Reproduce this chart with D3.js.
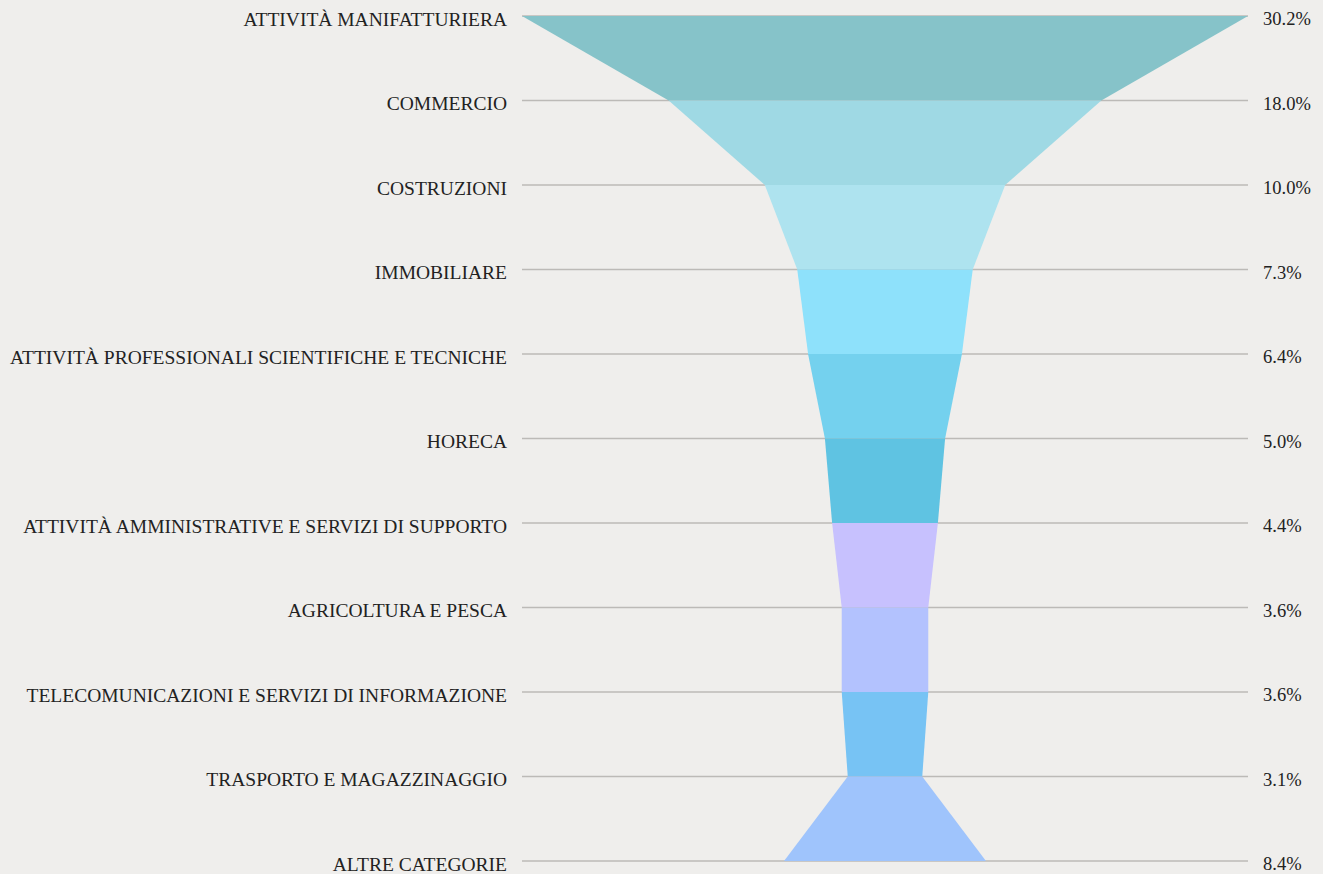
<!DOCTYPE html>
<html>
<head>
<meta charset="utf-8">
<script src="https://cdn.jsdelivr.net/npm/d3@7"></script>
<style>
  html, body { margin: 0; padding: 0; background: #efeeec; }
  svg { display: block; }
  text { font-family: 'Liberation Serif', 'DejaVu Serif', serif; fill: #222; }
</style>
</head>
<body>
<svg id="chart" width="1323" height="874"></svg>
<script>
'use strict'

var categories = [
  'ATTIVITÀ MANIFATTURIERA',
  'COMMERCIO',
  'COSTRUZIONI',
  'IMMOBILIARE',
  'ATTIVITÀ PROFESSIONALI SCIENTIFICHE E TECNICHE',
  'HORECA',
  'ATTIVITÀ AMMINISTRATIVE E SERVIZI DI SUPPORTO',
  'AGRICOLTURA E PESCA',
  'TELECOMUNICAZIONI E SERVIZI DI INFORMAZIONE',
  'TRASPORTO E MAGAZZINAGGIO',
  'ALTRE CATEGORIE'
]
var values = [30.2, 18.0, 10.0, 7.3, 6.4, 5.0, 4.4, 3.6, 3.6, 3.1, 8.4]
var bandColors = ['#86c3c9', '#9fd9e4', '#aee3ef', '#8ee1fb', '#74d1ee', '#5fc3e2',
  '#c7c1fe', '#b3c2fe', '#77c3f4', '#9fc4fc']

var svg = d3.select('#chart')
var left = 522
var right = 1248
var cx = (left + right) / 2

var y = d3.scalePoint()
  .domain(categories)
  .range([16, 861])

var w = d3.scaleLinear()
  .domain([0, d3.max(values)])
  .range([0, right - left])

// grid lines
svg.append('g')
  .selectAll('line')
  .data(categories)
  .enter().append('line')
    .attr('x1', left)
    .attr('x2', right)
    .attr('y1', (d) => y(d))
    .attr('y2', (d) => y(d))
    .attr('stroke', '#bcbab7')
    .attr('stroke-width', 1.3)

// funnel bands
var bands = d3.range(values.length - 1)
svg.append('g')
  .selectAll('path')
  .data(bands)
  .enter().append('path')
    .attr('fill', (i) => bandColors[i])
    .attr('d', (i) => {
      var y0 = y(categories[i])
      var y1 = y(categories[i + 1])
      var h0 = w(values[i]) / 2
      var h1 = w(values[i + 1]) / 2
      return 'M' + (cx - h0) + ',' + y0 + 'L' + (cx + h0) + ',' + y0 +
        'L' + (cx + h1) + ',' + y1 + 'L' + (cx - h1) + ',' + y1 + 'Z'
    })

// labels
svg.append('g')
  .selectAll('text')
  .data(categories)
  .enter().append('text')
    .attr('x', 507)
    .attr('y', (d) => y(d))
    .attr('dy', '0.5em')
    .attr('text-anchor', 'end')
    .attr('font-size', 19.5)
    .text((d) => d)

svg.append('g')
  .selectAll('text')
  .data(values)
  .enter().append('text')
    .attr('x', 1263)
    .attr('y', (d, i) => y(categories[i]))
    .attr('dy', '0.5em')
    .attr('font-size', 18.5)
    .text((d) => d.toFixed(1) + '%')
</script>
</body>
</html>
